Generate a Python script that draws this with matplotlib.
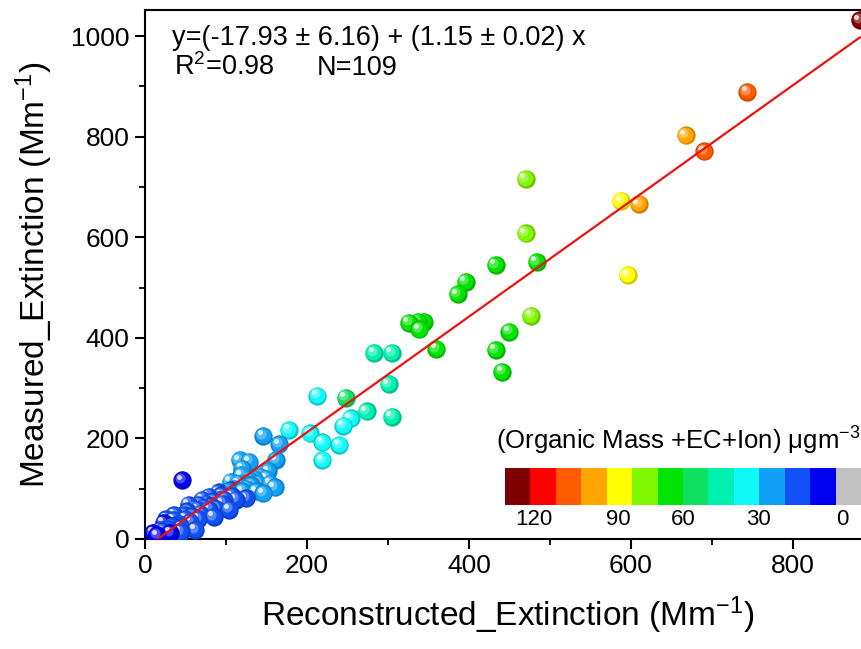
import numpy as np
import matplotlib
matplotlib.use("Agg")
import matplotlib.pyplot as plt
from matplotlib.colors import ListedColormap, BoundaryNorm, to_rgb
from matplotlib.transforms import ScaledTranslation

plt.rcParams['font.family'] = ['Liberation Sans', 'DejaVu Sans']
plt.rcParams['mathtext.fontset'] = 'custom'
plt.rcParams['mathtext.rm'] = 'Liberation Sans'
plt.rcParams['mathtext.default'] = 'regular'

# ---------------- data ----------------
reconstructed = [883, 744, 668, 691, 470, 588, 610, 470, 433, 484, 596, 396, 386, 477,
                 450, 433, 441, 360, 326, 337, 344, 339, 283, 305, 301, 305, 274, 248,
                 213, 254, 245, 240, 219, 204, 178, 146, 166, 219,
                 162, 117, 129, 142, 119, 160, 146, 125, 104, 106, 94, 46, 91, 79, 66,
                 54, 48, 35, 23, 19, 10, 62, 85, 56, 44, 31, 79, 98, 71, 131, 106, 65,
                 15, 22, 28, 33, 38, 42, 50, 52, 58, 60, 68, 72, 75, 82, 84, 88, 92, 96,
                 100, 102, 108, 110, 112, 115, 120, 122, 125, 128, 135, 138, 140, 150,
                 152, 155, 36, 26, 45, 66, 120]
measured = [1032, 889, 803, 771, 716, 672, 666, 608, 545, 551, 525, 512, 487, 444,
            412, 376, 333, 378, 430, 432, 432, 417, 370, 370, 308, 243, 254, 281,
            285, 240, 225, 187, 192, 210, 217, 205, 188, 157,
            157, 157, 154, 124, 127, 103, 91, 81, 58, 114, 87, 117, 93, 84, 68,
            68, 48, 38, 32, 18, 12, 18, 44, 34, 14, 12, 58, 78, 78, 107, 97, 58,
            8, 15, 20, 25, 28, 30, 40, 55, 45, 60, 50, 62, 70, 65, 75, 60, 78, 70,
            88, 95, 85, 100, 78, 110, 95, 112, 100, 118, 120, 95, 110, 120,
            135, 110, 48, 40, 22, 40, 140]
organic = [125, 105, 95, 105, 75, 85, 95, 75, 65, 65, 85, 65, 65, 75,
           65, 65, 65, 65, 62, 62, 62, 62, 45, 45, 45, 45, 48, 52,
           35, 35, 35, 35, 35, 35, 35, 25, 25, 35,
           25, 25, 25, 25, 22, 25, 22, 18, 15, 25, 15, 5, 18, 15, 15,
           12, 12, 12, 8, 12, 8, 12, 15, 12, 12, 8, 15, 18, 15, 22, 18, 12,
           8, 12, 12, 12, 12, 12, 15, 12, 15, 15, 15, 18, 15, 18, 15, 15, 18, 15,
           22, 22, 18, 22, 18, 22, 22, 25, 22, 25, 25, 22, 25, 25,
           25, 25, 12, 12, 12, 15, 25]

intercept = -17.93
slope = 1.15

bin_edges = [-10, 0, 10, 20, 30, 40, 50, 60, 70, 80, 90, 100, 110, 120, 130]
bin_colors = ['#c0c0c0', '#0000f0', '#1050f5', '#10a0f8', '#10f8f8', '#00f0b0',
              '#10e060', '#00e400', '#80f800', '#ffff00', '#ffa500', '#ff5a00',
              '#ff0000', '#7f0000']
cbar_labels = ['120', '90', '60', '30', '0']

eq_text = 'y=(-17.93 \u00b1 6.16) + (1.15 \u00b1 0.02) x'
r2_text = 'R$^{2}$=0.98'
n_text = 'N=109'

# ---------------- figure ----------------
W, H = 861, 649
fig = plt.figure(figsize=(W / 100, H / 100), dpi=100)
ax = fig.add_axes([145 / W, 1 - 539 / H, 1 - 145 / W + 0.01, (539 - 10) / H])
ax.set_xlim(0, 895)
ax.set_ylim(0, 1052)

cmap = ListedColormap(bin_colors)
norm = BoundaryNorm(bin_edges, cmap.N)

# fit line (drawn over the points, as in the reference)
xs = np.array([min(reconstructed), max(reconstructed)])
ax.plot(xs, intercept + slope * xs, color='#ee1111', lw=1.6, zorder=6)


def mix(c, w):
    c = np.array(to_rgb(c))
    return tuple(c * (1 - w) + w)


def dark(c, f):
    return tuple(np.array(to_rgb(c)) * f)


d = 13.2
layers = [(1.0, lambda c: dark(c, 0.8), 0.0),
          (0.86, lambda c: c, -0.5),
          (0.55, lambda c: mix(c, 0.3), -1.7),
          (0.27, lambda c: mix(c, 0.85), -2.5)]
order = np.argsort(np.array(measured))[::-1]
for i in order:
    col = to_rgb(cmap(norm(organic[i])))
    for k, (f, cf, off) in enumerate(layers):
        tr = ax.transData + ScaledTranslation(off / 72, -off / 72, fig.dpi_scale_trans)
        ax.plot([reconstructed[i]], [measured[i]], 'o', ms=d * f, mfc=cf(col),
                mec='none', transform=tr, zorder=4)

# axes styling
for s in ['left', 'bottom', 'top']:
    ax.spines[s].set_linewidth(1.5)
ax.spines['right'].set_visible(False)
ax.set_xticks([0, 200, 400, 600, 800])
ax.set_yticks([0, 200, 400, 600, 800, 1000])
ax.set_xticks(np.arange(100, 900, 200), minor=True)
ax.set_yticks(np.arange(100, 1000, 200), minor=True)
ax.tick_params(which='major', direction='out', length=7, width=1.5, labelsize=19,
               top=False, right=False, pad=4)
ax.tick_params(which='minor', direction='out', length=4.5, width=1.3, top=False, right=False)
ax.set_xlabel('Reconstructed_Extinction (Mm$^{-1}$)', fontsize=24, labelpad=12)
ax.set_ylabel('Measured_Extinction (Mm$^{-1}$)', fontsize=24, labelpad=12)

fig.text(172 / W, 1 - 45 / H, eq_text, fontsize=19.5, va='baseline', ha='left')
fig.text(174 / W, 1 - 75 / H, r2_text, fontsize=19.5, va='baseline', ha='left')
fig.text(317 / W, 1 - 75 / H, n_text, fontsize=19.5, va='baseline', ha='left')

# colour legend bar
cax = fig.add_axes([505 / W, 1 - 505 / H, 355 / W, 37 / H])
cax.imshow(np.arange(len(bin_colors))[::-1].reshape(1, -1), cmap=ListedColormap(bin_colors),
           aspect='auto', interpolation='nearest')
cax.set_yticks([])
cax.set_xticks([0.62, 3.97, 6.54, 9.5, 12.8])
cax.set_xticklabels(cbar_labels, fontsize=16)
cax.tick_params(length=0, pad=3)
for s in cax.spines.values():
    s.set_visible(False)
fig.text(678 / W, 1 - 441 / H, '(Organic Mass +EC+Ion) \u03bcgm$^{-3}$', fontsize=18.5,
         ha='center', va='center')

fig.savefig('out.png', dpi=100)
